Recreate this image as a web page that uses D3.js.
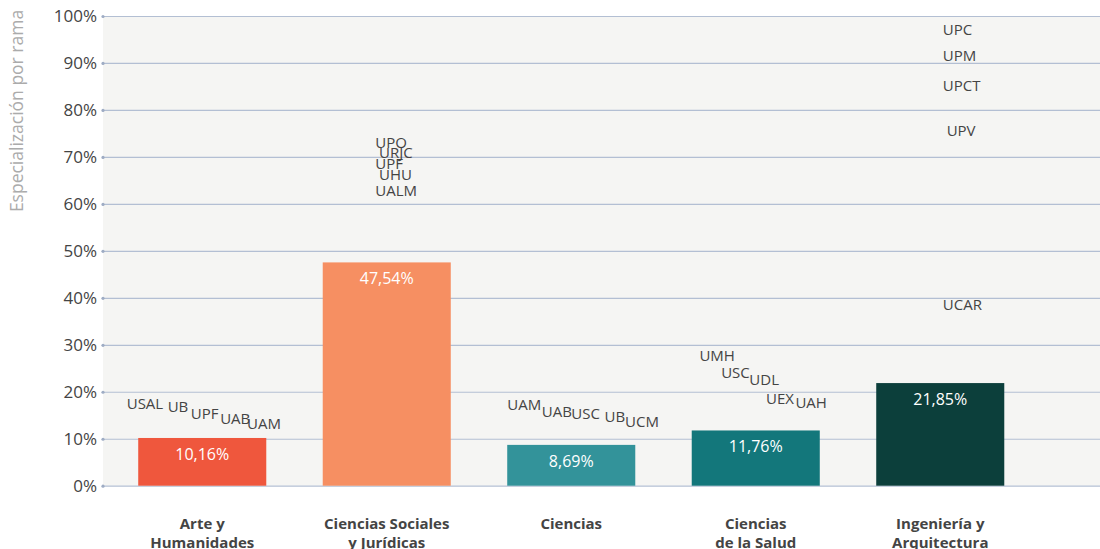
<!DOCTYPE html>
<html>
<head>
<meta charset="utf-8">
<script src="https://cdn.jsdelivr.net/npm/d3@7"></script>
<style>
  body { margin: 0; background: #fff; }
  svg { display: block; font-family: "Open Sans", sans-serif; }
</style>
</head>
<body>
<script>
// ramas de conocimiento y especialización media
const ramas = ['Arte y|Humanidades', 'Ciencias Sociales|y Jurídicas', 'Ciencias', 'Ciencias|de la Salud', 'Ingeniería y|Arquitectura'];
const valores = [10.16, 47.54, 8.69, 11.76, 21.85];
const colores = ['#ef573d', '#f68f62', '#33939a', '#13777b', '#0c3f3b'];
const yTicks = [0, 10, 20, 30, 40, 50, 60, 70, 80, 90, 100];

// universidades más especializadas por rama: [rama, siglas, valor %, orden dentro de la rama]
const univRama = [0, 0, 0, 0, 0, 1, 1, 1, 1, 1, 2, 2, 2, 2, 2, 3, 3, 3, 3, 3, 4, 4, 4, 4, 4];
const univNombre = ['USAL', 'UB', 'UPF', 'UAB', 'UAM',
                    'UPO', 'URJC', 'UPF', 'UHU', 'UALM',
                    'UAM', 'UAB', 'USC', 'UB', 'UCM',
                    'UMH', 'USC', 'UDL', 'UEX', 'UAH',
                    'UPC', 'UPM', 'UPCT', 'UPV', 'UCAR'];
const univValor = [17.4, 16.8, 15.4, 14.2, 13.1,
                   73.0, 70.8, 68.6, 66.1, 62.8,
                   17.2, 15.8, 15.4, 14.7, 13.6,
                   27.7, 24.1, 22.5, 18.6, 17.7,
                   97.0, 91.5, 85.1, 75.6, 38.5];
const univOrden = [-0.09, 0.23, 0.41, 0.64, 0.85,
                   0.41, 0.44, 0.41, 0.44, 0.41,
                   0.0, 0.27, 0.5, 0.76, 0.92,
                   0.06, 0.23, 0.45, 0.58, 0.81,
                   0.52, 0.52, 0.52, 0.55, 0.52];

const W = 1100, H = 549;
const svg = d3.select('body').append('svg').attr('width', W).attr('height', H);

const x = d3.scaleBand().domain(ramas).range([110, 1032.5]).paddingInner(0.306).paddingOuter(0.153);
const y = d3.scaleLinear().domain([0, 100]).range([485.7, 16]);
const left = 103;

// fondo del área de trazado
svg.append('rect')
  .attr('x', left).attr('y', y(100))
  .attr('width', W - left).attr('height', y(0) - y(100))
  .attr('fill', '#f5f5f3');

// rejilla + etiquetas eje y
const yAxis = svg.append('g').attr('transform', `translate(${left},0)`)
  .call(d3.axisLeft(y).tickValues(yTicks).tickSize(-(W - left)).tickPadding(6).tickFormat(d => d + '%'));
yAxis.select('.domain').remove();
yAxis.selectAll('.tick line').attr('stroke', '#b3bfd3').attr('stroke-width', 1.2);
yAxis.selectAll('.tick text')
  .attr('fill', '#444').attr('font-size', 17).attr('font-family', '"Open Sans", sans-serif');
yAxis.selectAll('.tick').append('circle').attr('r', 1.6).attr('fill', '#9eacc4');

svg.append('text')
  .attr('transform', `translate(23,111) rotate(-90)`)
  .attr('text-anchor', 'middle')
  .attr('fill', '#ababab').attr('font-size', 17.5)
  .text('Especialización por rama');

// barras
svg.selectAll('rect.bar').data(ramas).join('rect')
  .attr('class', 'bar')
  .attr('x', d => x(d))
  .attr('y', (d, i) => y(valores[i]))
  .attr('width', x.bandwidth())
  .attr('height', (d, i) => y(0) - y(valores[i]))
  .attr('fill', (d, i) => colores[i]);

svg.selectAll('text.val').data(ramas).join('text')
  .attr('class', 'val')
  .attr('x', d => x(d) + x.bandwidth() / 2)
  .attr('y', (d, i) => y(valores[i]) + 22)
  .attr('text-anchor', 'middle')
  .attr('fill', '#fff').attr('font-size', 16)
  .text((d, i) => valores[i].toFixed(2).replace('.', ',') + '%');

// etiquetas categoría
const cat = svg.selectAll('text.cat').data(ramas).join('text')
  .attr('class', 'cat')
  .attr('text-anchor', 'middle')
  .attr('fill', '#444').attr('font-size', 15).attr('font-weight', 'bold');
cat.selectAll('tspan').data(d => d.split('|').map(t => ({ t, d }))).join('tspan')
  .attr('x', o => x(o.d) + x.bandwidth() / 2)
  .attr('y', (o, i) => 529 + i * 19)
  .text(o => o.t);

// siglas de universidades
svg.selectAll('text.univ').data(univNombre).join('text')
  .attr('class', 'univ')
  .attr('x', (d, i) => x(ramas[univRama[i]]) + univOrden[i] * x.bandwidth())
  .attr('y', (d, i) => y(univValor[i]))
  .attr('dy', '0.35em')
  .attr('fill', '#444').attr('font-size', 15)
  .text(d => d);
</script>
</body>
</html>
